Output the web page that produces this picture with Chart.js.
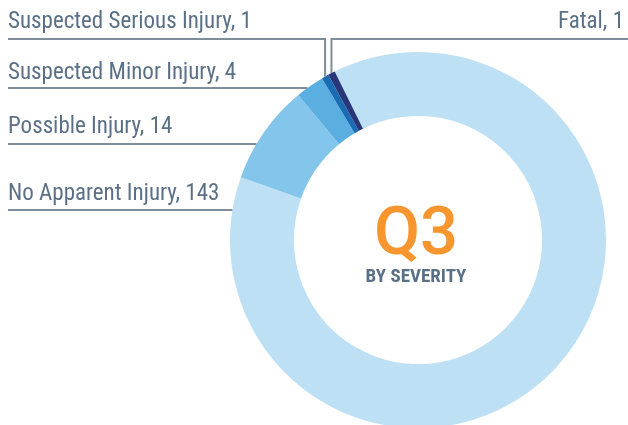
<!DOCTYPE html>
<html>
<head>
<meta charset="utf-8">
<script src="https://cdn.jsdelivr.net/npm/chart.js@4.4.1/dist/chart.umd.min.js"></script>
<style>
  html, body { margin: 0; padding: 0; background: #fff; }
  #wrap { width: 628px; height: 425px; overflow: hidden; position: relative; }
</style>
</head>
<body>
<div id="wrap"><canvas id="severityChart" width="628" height="428"></canvas></div>
<script>
const categories = ['No Apparent Injury', 'Possible Injury', 'Suspected Minor Injury', 'Suspected Serious Injury', 'Fatal'];
const crashCounts = [143, 14, 4, 1, 1];
const sliceColors = ['#bee0f4', '#84c5eb', '#5aaee0', '#1b6db3', '#273779'];
const centerTitle = 'Q3';
const centerSubtitle = 'BY SEVERITY';

// where each label goes (text baseline + leader line y)
const labelLayout = {
  'Suspected Serious Injury': { side: 'left', text: 28, line: 39, drop: true },
  'Fatal': { side: 'right', text: 28, line: 39, drop: true },
  'Suspected Minor Injury': { side: 'left', text: 79, line: 88 },
  'Possible Injury': { side: 'left', text: 133, line: 144 },
  'No Apparent Injury': { side: 'left', text: 200, line: 210 }
};

const labelPlugin = {
  id: 'sliceLabels',
  afterDraw(chart) {
    const ctx = chart.ctx;
    const arcs = chart.getDatasetMeta(0).data;
    ctx.save();
    ctx.strokeStyle = '#7f8c99';
    ctx.lineWidth = 2;
    ctx.fillStyle = '#5b7086';
    ctx.font = '23px "Liberation Sans Narrow", "Roboto Condensed", Roboto, sans-serif';
    ctx.textBaseline = 'alphabetic';
    categories.forEach((name, i) => {
      const pos = labelLayout[name];
      const arc = arcs[i];
      const r = arc.outerRadius;
      let ex, ey;
      if (pos.drop) {
        const mid = (arc.startAngle + arc.endAngle) / 2;
        ex = arc.x + Math.cos(mid) * r;
        ey = arc.y + Math.sin(mid) * r;
      } else {
        ex = arc.x - Math.sqrt(r * r - Math.pow(pos.line - arc.y, 2));
        ey = pos.line;
      }
      ctx.beginPath();
      ctx.moveTo(pos.side === 'left' ? 8 : 628, pos.line);
      ctx.lineTo(ex, pos.line);
      if (pos.drop) ctx.lineTo(ex, ey);
      ctx.stroke();
      ctx.textAlign = pos.side === 'left' ? 'left' : 'right';
      ctx.fillText(name + ', ' + crashCounts[i], pos.side === 'left' ? 8 : 624, pos.text);
    });

    // middle of the ring
    const c = arcs[0];
    ctx.textAlign = 'center';
    ctx.fillStyle = '#f7962e';
    ctx.font = '500 67px Roboto, "Liberation Sans", sans-serif';
    ctx.fillText(centerTitle, c.x - 2, c.y + 14);
    ctx.fillStyle = '#5a7086';
    ctx.font = 'bold 19px "Liberation Sans Narrow", "Roboto Condensed", Roboto, sans-serif';
    ctx.fillText(centerSubtitle, c.x - 2, c.y + 42);
    ctx.restore();
  }
};

const ctx = document.getElementById('severityChart').getContext('2d');
new Chart(ctx, {
  type: 'doughnut',
  data: {
    labels: categories,
    datasets: [{
      data: crashCounts,
      backgroundColor: sliceColors,
      borderWidth: 0,
      hoverOffset: 0,
      offset: 0
    }]
  },
  options: {
    responsive: false,
    animation: false,
    rotation: -26.3,
    cutout: '66%',
    layout: {
      padding: { left: 230, right: 22, top: 52, bottom: 0 }
    },
    plugins: {
      legend: { display: false },
      tooltip: { enabled: false }
    }
  },
  plugins: [labelPlugin]
});
</script>
</body>
</html>
